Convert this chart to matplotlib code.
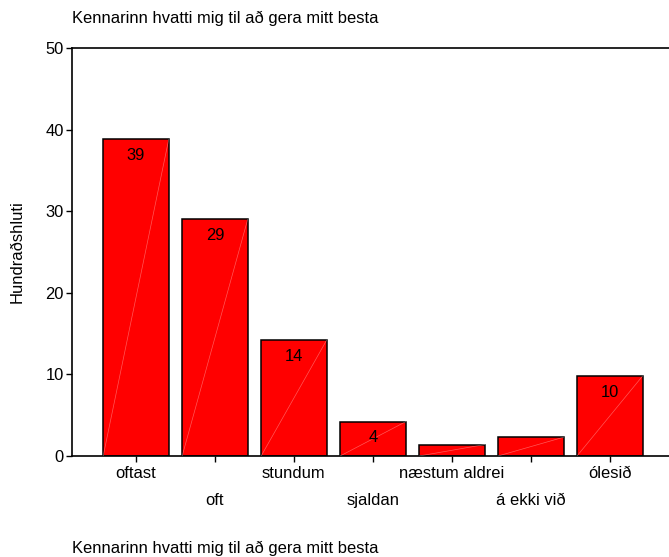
import matplotlib
matplotlib.use("Agg")
import matplotlib.pyplot as plt

plt.rcParams['font.family'] = ['Liberation Sans', 'DejaVu Sans']

# data
categories = ["oftast", "oft", "stundum", "sjaldan", "næstum aldrei", "á ekki við", "ólesið"]
percent = [38.8, 29.0, 14.2, 4.2, 1.4, 2.3, 9.8]
bar_labels = ["39", "29", "14", "4", "", "", "10"]
title = "Kennarinn hvatti mig til að gera mitt besta"
ylabel = "Hundraðshluti"

FS = 11.9
W, H = 669, 557
fig = plt.figure(figsize=(W / 100, H / 100), dpi=100)
ax = fig.add_axes([72 / W, (H - 456) / H, 1 - 72 / W, (456 - 48) / H])

x = list(range(len(categories)))
width = 0.83
ax.bar(x, percent, width=width, color="#ff0000", edgecolor="black", linewidth=1.1, zorder=2)

# faint diagonal streak in each bar (bottom-left to top-right)
for xi, v in zip(x, percent):
    ax.plot([xi - width / 2, xi + width / 2], [0, v], color="white", lw=0.5, alpha=0.35, zorder=3)

for xi, v, lab in zip(x, percent, bar_labels):
    if lab:
        ax.annotate(lab, (xi, v), xytext=(0, -11.5), textcoords="offset points",
                    ha="center", va="center", fontsize=FS, zorder=4)

ax.set_xlim(-0.81, 6.75)
ax.set_ylim(0, 50)
ax.set_yticks([0, 10, 20, 30, 40, 50])
ax.tick_params(axis="y", direction="out", length=4, width=1, labelsize=FS, pad=2)

# staggered category labels
ax.set_xticks(x[0::2])
ax.set_xticklabels(categories[0::2])
ax.set_xticks(x[1::2], minor=True)
ax.set_xticklabels(categories[1::2], minor=True)
ax.tick_params(axis="x", which="major", direction="out", length=4, width=1, labelsize=FS, pad=3)
ax.tick_params(axis="x", which="minor", direction="out", length=4, width=1, labelsize=FS, pad=22.5)

for s in ["left", "top", "bottom"]:
    ax.spines[s].set_linewidth(1.2)
ax.spines["right"].set_visible(False)

fig.text(17 / W, 1 - 252 / H, ylabel, rotation=90, ha="center", va="center", fontsize=FS)
fig.text(72 / W, 1 - 18 / H, title, ha="left", va="center", fontsize=FS)
fig.text(72 / W, 1 - 548 / H, title, ha="left", va="center", fontsize=FS)

fig.savefig("out.png", dpi=100)
